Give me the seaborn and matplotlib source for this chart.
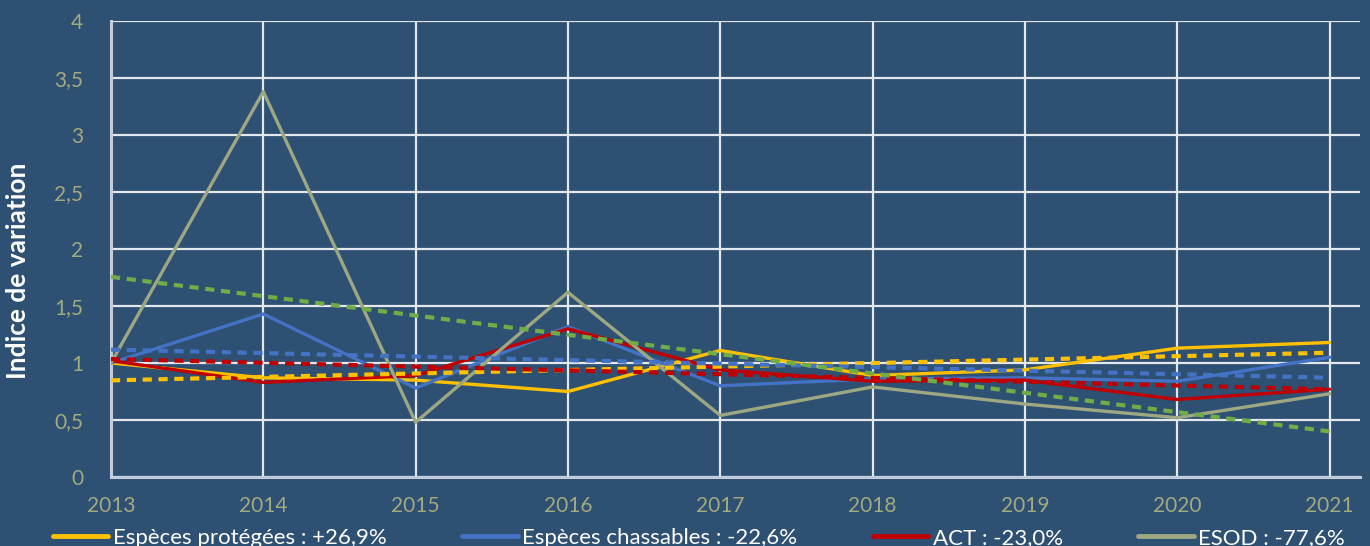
import numpy as np
import pandas as pd
import matplotlib
matplotlib.use("Agg")
import matplotlib.pyplot as plt
import seaborn as sns

years = [2013, 2014, 2015, 2016, 2017, 2018, 2019, 2020, 2021]
especes_protegees = [1.00, 0.87, 0.85, 0.75, 1.11, 0.89, 0.94, 1.13, 1.18]
especes_chassables = [1.00, 1.43, 0.78, 1.32, 0.80, 0.86, 0.87, 0.84, 1.05]
act = [1.02, 0.83, 0.89, 1.30, 0.94, 0.84, 0.85, 0.68, 0.77]
esod = [1.00, 3.38, 0.48, 1.62, 0.54, 0.79, 0.64, 0.52, 0.73]

series_names = ["Espèces protégées", "Espèces chassables", "ACT", "ESOD"]
legend_labels = ["Espèces protégées : +26,9%", "Espèces chassables : -22,6%",
                 "ACT : -23,0%", "ESOD : -77,6%"]
y_ticks = [0, 0.5, 1, 1.5, 2, 2.5, 3, 3.5, 4]
y_tick_labels = ["0", "0,5", "1", "1,5", "2", "2,5", "3", "3,5", "4"]
y_label = "Indice de variation"

line_colors = ["#FFC000", "#4472C4", "#C00000", "#9DA883"]
trend_colors = ["#FFC000", "#4472C4", "#C00000", "#70AD47"]

BG = "#2E5072"
TICK_COLOR = "#A3AA80"

sns.set_theme(style="white")
plt.rcParams["font.family"] = ["Lato", "DejaVu Sans"]

fig = plt.figure(figsize=(13.7, 5.46), dpi=100, facecolor=BG)
ax = fig.add_axes([111 / 1370, 1 - 477 / 546, (1360 - 111) / 1370, (477 - 21) / 546])
ax.set_facecolor(BG)

all_values = [especes_protegees, especes_chassables, act, esod]
frames = []
for name, vals in zip(series_names, all_values):
    frames.append(pd.DataFrame({"year": years, "value": vals, "serie": name}))
df = pd.concat(frames, ignore_index=True)

handles = []
for name, lab, col in zip(series_names, legend_labels, line_colors):
    sub = df[df["serie"] == name]
    sns.lineplot(data=sub, x="year", y="value", ax=ax, color=col, lw=2.4,
                 label=lab, legend=False, zorder=3)
    handles.append(ax.lines[-1])

for name, col in zip(series_names, trend_colors):
    sub = df[df["serie"] == name]
    sns.regplot(data=sub, x="year", y="value", ax=ax, scatter=False, ci=None,
                truncate=True, color=col,
                line_kws=dict(lw=3.0, ls=(0, (2.2, 1.6)), zorder=4))

ax.set_xlim(2013, 2021.2)
ax.set_ylim(0, 4)
ax.set_xticks(years)
ax.set_xticklabels([str(y) for y in years])
ax.set_yticks(y_ticks)
ax.set_yticklabels(y_tick_labels)
ax.set_xlabel("")
ax.set_ylabel("")
ax.grid(True, color="#E4E7EC", lw=1.6)
ax.set_axisbelow(True)
ax.tick_params(axis="both", colors=TICK_COLOR, labelsize=15, length=0)
ax.tick_params(axis="y", pad=20)
ax.tick_params(axis="x", pad=14)
for side in ["top", "right"]:
    ax.spines[side].set_visible(False)
for side in ["left", "bottom"]:
    ax.spines[side].set_color("#C3CCDA")
    ax.spines[side].set_linewidth(2.2)

fig.text(18 / 1370, 1 - 271 / 546, y_label, rotation=90, ha="center", va="center",
         color="white", fontsize=19, fontweight="bold")

leg = fig.legend(handles=handles, labels=legend_labels, loc="center",
                 bbox_to_anchor=(699 / 1370, 1 - 538 / 546), ncol=4, frameon=False,
                 fontsize=16, handlelength=2.5, handletextpad=0.2, columnspacing=3.4,
                 labelcolor="white")
for h in leg.legend_handles:
    h.set_linewidth(3.5)

fig.savefig("out.png", dpi=100, facecolor=BG)
